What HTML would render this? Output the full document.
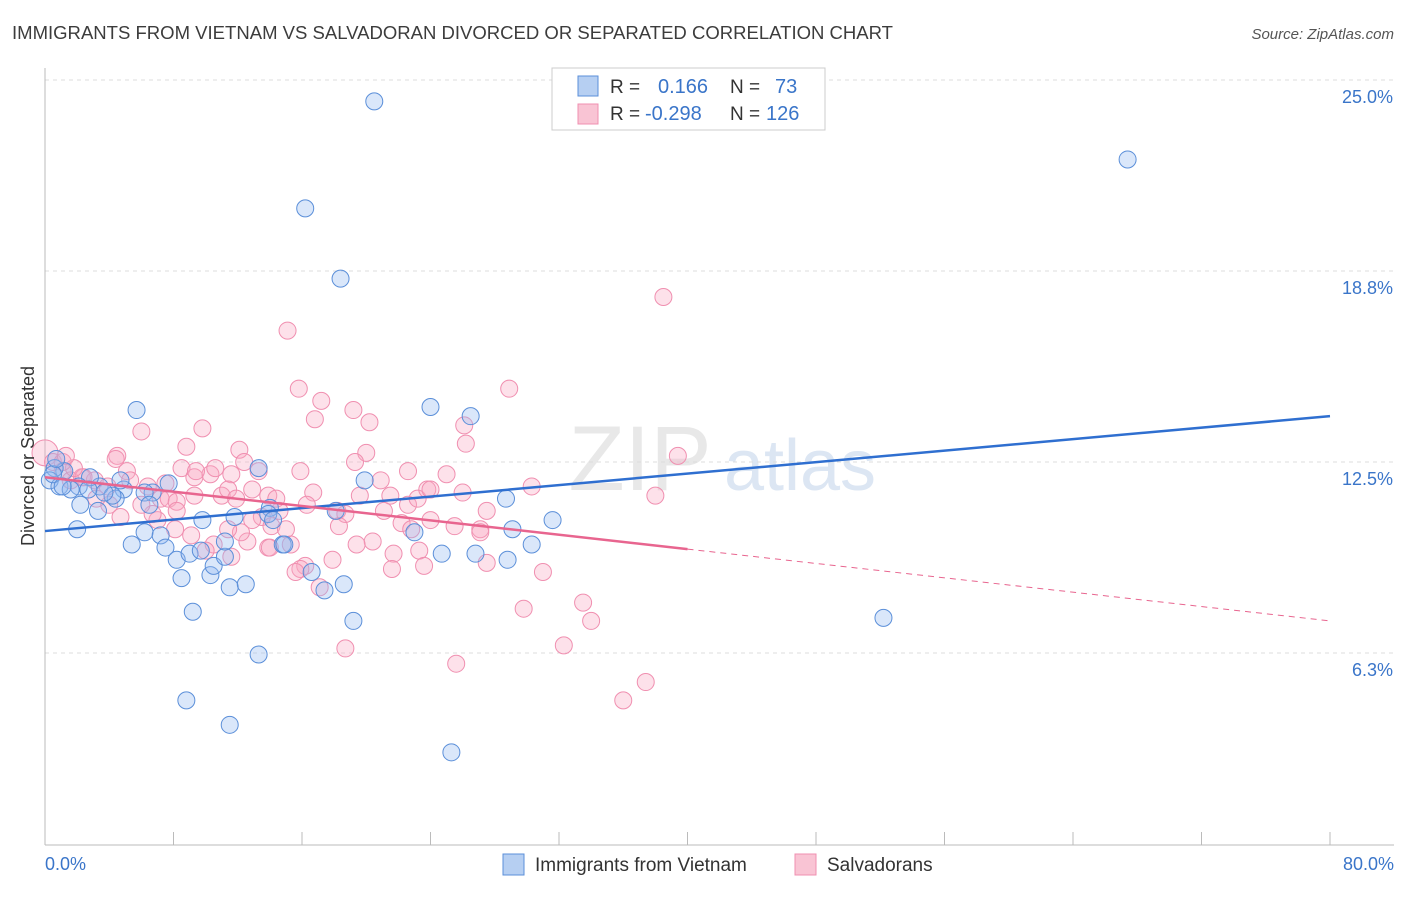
<!DOCTYPE html>
<html><head><meta charset="utf-8"><style>
body{margin:0;background:#fff;font-family:"Liberation Sans",sans-serif;}
svg text{font-family:"Liberation Sans",sans-serif;}
</style></head><body>
<svg id="chart" width="1406" height="892" xmlns="http://www.w3.org/2000/svg">
<text x="12" y="39" font-size="18" fill="#3c3c3c" textLength="881" lengthAdjust="spacingAndGlyphs">IMMIGRANTS FROM VIETNAM VS SALVADORAN DIVORCED OR SEPARATED CORRELATION CHART</text>
<text x="1394" y="39" font-size="15" fill="#555" font-style="italic" text-anchor="end">Source: ZipAtlas.com</text>
<text x="640" y="490" font-size="92" fill="#e8e8e8" font-family="Liberation Serif" text-anchor="middle">ZIP</text>
<text x="800" y="490" font-size="72" fill="#dce6f3" text-anchor="middle">atlas</text>
<g id="grid"></g>
<g id="axes"></g>
<g id="pts"></g>
<g id="lines"></g>
<text transform="translate(34,456) rotate(-90)" font-size="18" fill="#333" text-anchor="middle">Divorced or Separated</text>
<text x="45" y="870" font-size="18" fill="#3a75c9">0.0%</text>
<text x="1394" y="870" font-size="18" fill="#3a75c9" text-anchor="end">80.0%</text>
<g>
<rect x="552" y="68" width="273" height="62" fill="#fff" stroke="#ccc"/>
<rect x="578" y="76" width="20" height="20" fill="#b6cff2" stroke="#5b8fd9"/>
<rect x="578" y="104" width="20" height="20" fill="#f9c4d4" stroke="#f08fb0"/>
<text x="610" y="93" font-size="19" fill="#333">R =</text>
<text x="658" y="93" font-size="20" fill="#3a75c9">0.166</text>
<text x="730" y="93" font-size="19" fill="#333">N =</text>
<text x="775" y="93" font-size="20" fill="#3a75c9">73</text>
<text x="610" y="120" font-size="19" fill="#333">R =</text>
<text x="645" y="120" font-size="20" fill="#3a75c9">-0.298</text>
<text x="730" y="120" font-size="19" fill="#333">N =</text>
<text x="766" y="120" font-size="20" fill="#3a75c9">126</text>
</g>
<g>
<rect x="503" y="854" width="21" height="21" fill="#b6cff2" stroke="#5b8fd9"/>
<text x="535" y="871" font-size="19" fill="#333">Immigrants from Vietnam</text>
<rect x="795" y="854" width="21" height="21" fill="#f9c4d4" stroke="#f08fb0"/>
<text x="827" y="871" font-size="19" fill="#333">Salvadorans</text>
</g>
</svg>
<script>
const yTicks=[6.25,12.5,18.75,25];
const yTickLabels=["6.3%","12.5%","18.8%","25.0%"];
const xTicks=[0,8,16,24,32,40,48,56,64,72,80];
const blueX=[20.5,16.2,67.4,18.4,5.7,24.0,26.5,13.3,19.9,28.7,31.6,29.1,30.3,23.0,24.7,26.8,28.8,52.2,19.2,13.3,8.8,11.5,25.3,9.2,8.5,10.3,11.5,12.5,17.4,18.6,16.6,14.8,11.8,9.8,7.7,6.7,4.9,4.4,3.4,2.8,2.1,1.2,0.6,0.3,0.9,1.6,2.2,2.0,3.3,4.2,5.4,6.2,7.2,7.5,8.2,9.0,9.7,10.5,11.2,14.0,13.9,14.9,14.2,4.7,3.7,2.7,0.5,0.7,1.1,6.2,6.5,18.1,11.2];
const blueY=[24.3,20.8,22.4,18.5,14.2,14.3,14.0,12.3,11.9,11.3,10.6,10.3,9.8,10.2,9.5,9.5,9.3,7.4,7.3,6.2,4.7,3.9,3.0,7.6,8.7,8.8,8.4,8.5,8.3,8.5,8.9,9.8,10.7,10.6,11.8,11.5,11.6,11.3,11.7,12.0,11.7,12.2,12.3,11.9,11.7,11.6,11.1,10.3,10.9,11.4,9.8,10.2,10.1,9.7,9.3,9.5,9.6,9.1,9.4,11.0,10.8,9.8,10.6,11.9,11.5,11.6,12.1,12.6,11.7,11.5,11.1,10.9,9.9];
const pinkX=[0,0.5,1.1,1.6,2.3,3.1,3.9,4.5,5.1,6.0,6.4,7.2,7.7,8.2,8.5,8.8,9.3,9.8,10.3,10.6,11.0,11.6,12.1,12.4,12.9,13.3,13.9,14.6,15.1,15.8,16.8,17.2,16.7,16.3,18.2,18.7,19.2,20.2,20.0,20.9,21.5,22.2,22.6,23.2,23.8,25.0,26.0,26.1,26.2,28.9,30.3,38.5,39.4,38.0,27.5,27.1,25.5,24.0,22.8,21.7,23.3,23.6,21.6,20.4,19.4,17.9,16.2,15.9,15.6,17.1,29.8,31.0,33.5,34.0,32.3,25.6,37.4,36.0,18.7,13.9,12.6,11.6,10.5,10.0,9.1,8.1,7.0,6.7,6.0,4.7,4.0,3.2,2.4,1.8,1.1,1.3,4.4,5.3,7.5,9.4,11.4,11.9,13.5,14.1,15.0,14.4,15.9,12.2,12.9,11.4,9.3,8.2,19.6,21.1,22.6,24.0,27.5,27.1,18.3,19.3,15.3,14.0];
const pinkY=[12.8,12.5,12.2,11.9,12.0,11.9,11.7,12.7,12.2,13.5,11.7,11.3,11.3,11.2,12.3,13.0,12.0,13.6,12.1,12.3,11.4,12.1,12.9,12.5,11.6,12.2,11.4,10.9,16.8,14.9,13.9,14.5,11.5,11.1,10.9,10.8,14.2,13.8,12.8,11.9,11.4,10.5,11.1,11.3,11.6,12.1,11.5,13.7,13.1,14.9,11.7,17.9,12.7,11.4,10.9,10.3,10.4,10.6,10.3,9.5,9.6,9.1,9.0,9.9,9.8,9.3,9.1,9.0,8.9,8.4,7.7,8.9,7.9,7.3,6.5,5.9,5.3,4.7,6.4,9.7,9.9,9.4,9.8,9.6,10.1,10.3,10.6,10.8,11.1,10.7,11.1,11.3,12.0,12.3,12.5,12.7,12.6,11.9,11.8,12.2,11.6,11.3,10.7,10.4,10.3,11.3,12.2,10.2,10.6,10.3,11.4,10.9,11.4,10.9,12.2,11.6,9.2,10.2,10.4,12.5,9.8,9.7];
const blueTrend=[10.24,14.0];
const pinkTrend=[12.0,7.3];
const pinkSolidEnd=40;

const NS="http://www.w3.org/2000/svg";
const X0=45,X1=1330,YB=844,YT=80;
function sx(v){return X0+(v/80)*(X1-X0);}
function sy(v){return YB-(v/25)*(YB-YT);}
function mk(tag,attrs,parent){const e=document.createElementNS(NS,tag);for(const k in attrs)e.setAttribute(k,attrs[k]);parent.appendChild(e);return e;}
const grid=document.getElementById('grid'),axes=document.getElementById('axes'),pts=document.getElementById('pts'),lines=document.getElementById('lines');
yTicks.forEach((t,i)=>{
 const l=mk('line',{x1:X0,x2:1394,y1:sy(t),y2:sy(t),stroke:'#ddd','stroke-dasharray':'4,4'},grid);
 
 
 const tx=mk('text',{x:1393,y:sy(t)+23,'font-size':18,fill:'#3a75c9','text-anchor':'end'},grid);
 tx.textContent=yTickLabels[i];
 
 
});
const ax=mk('line',{x1:X0,x2:X0,y1:68,y2:845,stroke:'#bbb'},axes);


const bx=mk('line',{x1:X0,x2:1394,y1:845,y2:845,stroke:'#bbb'},axes);


xTicks.forEach(t=>{
 const l=mk('line',{x1:sx(t),x2:sx(t),y1:832,y2:845,stroke:'#bbb'},axes);
 
 
});
function drawPts(xs,ys,fill,stroke,name){
 xs.forEach((x,i)=>{
  const r=(x===0&&name==='salvadoran-point')?13:8.5;
  const c=mk('circle',{cx:sx(x),cy:sy(ys[i]),r:r,fill:fill,stroke:stroke,'stroke-width':1},pts);
  
  
 });
}
drawPts(pinkX,pinkY,'rgba(248,170,195,0.35)','#f08fb0','salvadoran-point');
drawPts(blueX,blueY,'rgba(150,185,240,0.35)','#5b8fd9','vietnam-point');
const bl=mk('line',{x1:sx(0),y1:sy(blueTrend[0]),x2:sx(80),y2:sy(blueTrend[1]),stroke:'#2f6fd0','stroke-width':2.5},lines);


const pm=pinkTrend[0]+(pinkTrend[1]-pinkTrend[0])*pinkSolidEnd/80;
const pl=mk('line',{x1:sx(0),y1:sy(pinkTrend[0]),x2:sx(pinkSolidEnd),y2:sy(pm),stroke:'#e8658f','stroke-width':2.5},lines);


const pd=mk('line',{x1:sx(pinkSolidEnd),y1:sy(pm),x2:sx(80),y2:sy(pinkTrend[1]),stroke:'#e8658f','stroke-width':1,'stroke-dasharray':'6,5'},lines);


</script>
</body></html>
